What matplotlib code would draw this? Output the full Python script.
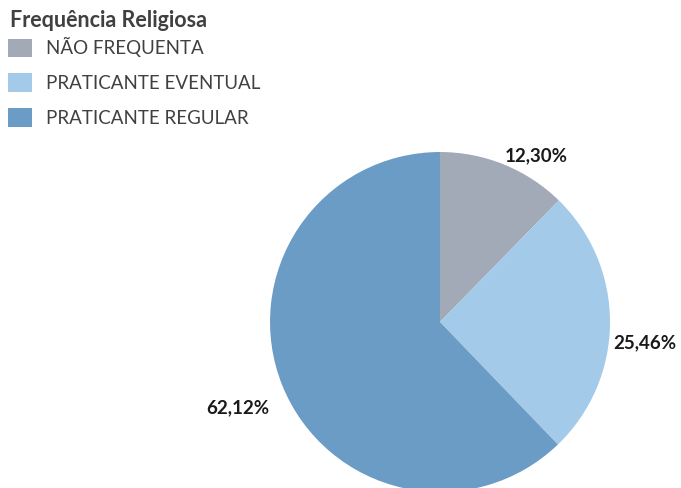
import numpy as np
import matplotlib.pyplot as plt
from matplotlib.patches import Patch

# dados do gráfico
categorias = ['NÃO FREQUENTA', 'PRATICANTE EVENTUAL', 'PRATICANTE REGULAR']
valores = [12.30, 25.46, 62.12]
rotulos = ['12,30%', '25,46%', '62,12%']
cores = ['#A2AAB7', '#A3CAE8', '#6A9CC6']

plt.rcParams['font.family'] = ['Lato', 'DejaVu Sans']

fig = plt.figure(figsize=(6.81, 4.88), dpi=100)
ax = fig.add_axes([0.3965, -0.0082, 0.4993, 0.6967])

wedges, _ = ax.pie(valores, colors=cores, startangle=90, counterclock=False,
                   wedgeprops={'linewidth': 0})

# rótulos fora da pizza, parecido com o Excel
dist = [1.13, 1.21, 1.29]
ajuste = [-8, -5.5, 1]
for w, txt, d, a in zip(wedges, rotulos, dist, ajuste):
    ang = np.deg2rad((w.theta1 + w.theta2) / 2 + a)
    ax.text(d * np.cos(ang), d * np.sin(ang), txt, ha='center', va='center',
            fontsize=13.5, fontweight='bold', color='#1a1a1a')
ax.set_xlim(-1, 1)
ax.set_ylim(-1, 1)
ax.set_aspect('equal')

# título da legenda
fig.text(0.014, 0.958, 'Frequência Religiosa', ha='left', va='center',
         fontsize=15.5, fontweight='bold', color='#404040')

handles = [Patch(facecolor=c, edgecolor='none') for c in cores]
leg = fig.legend(handles, categorias, loc='upper left', bbox_to_anchor=(0.012, 0.924),
                 frameon=False, fontsize=13.5,
                 handlelength=1.28, handleheight=1.12, labelspacing=0.87,
                 handletextpad=0.75, borderpad=0, borderaxespad=0)
for t in leg.get_texts():
    t.set_color('#404040')

fig.savefig('out.png', dpi=100)
